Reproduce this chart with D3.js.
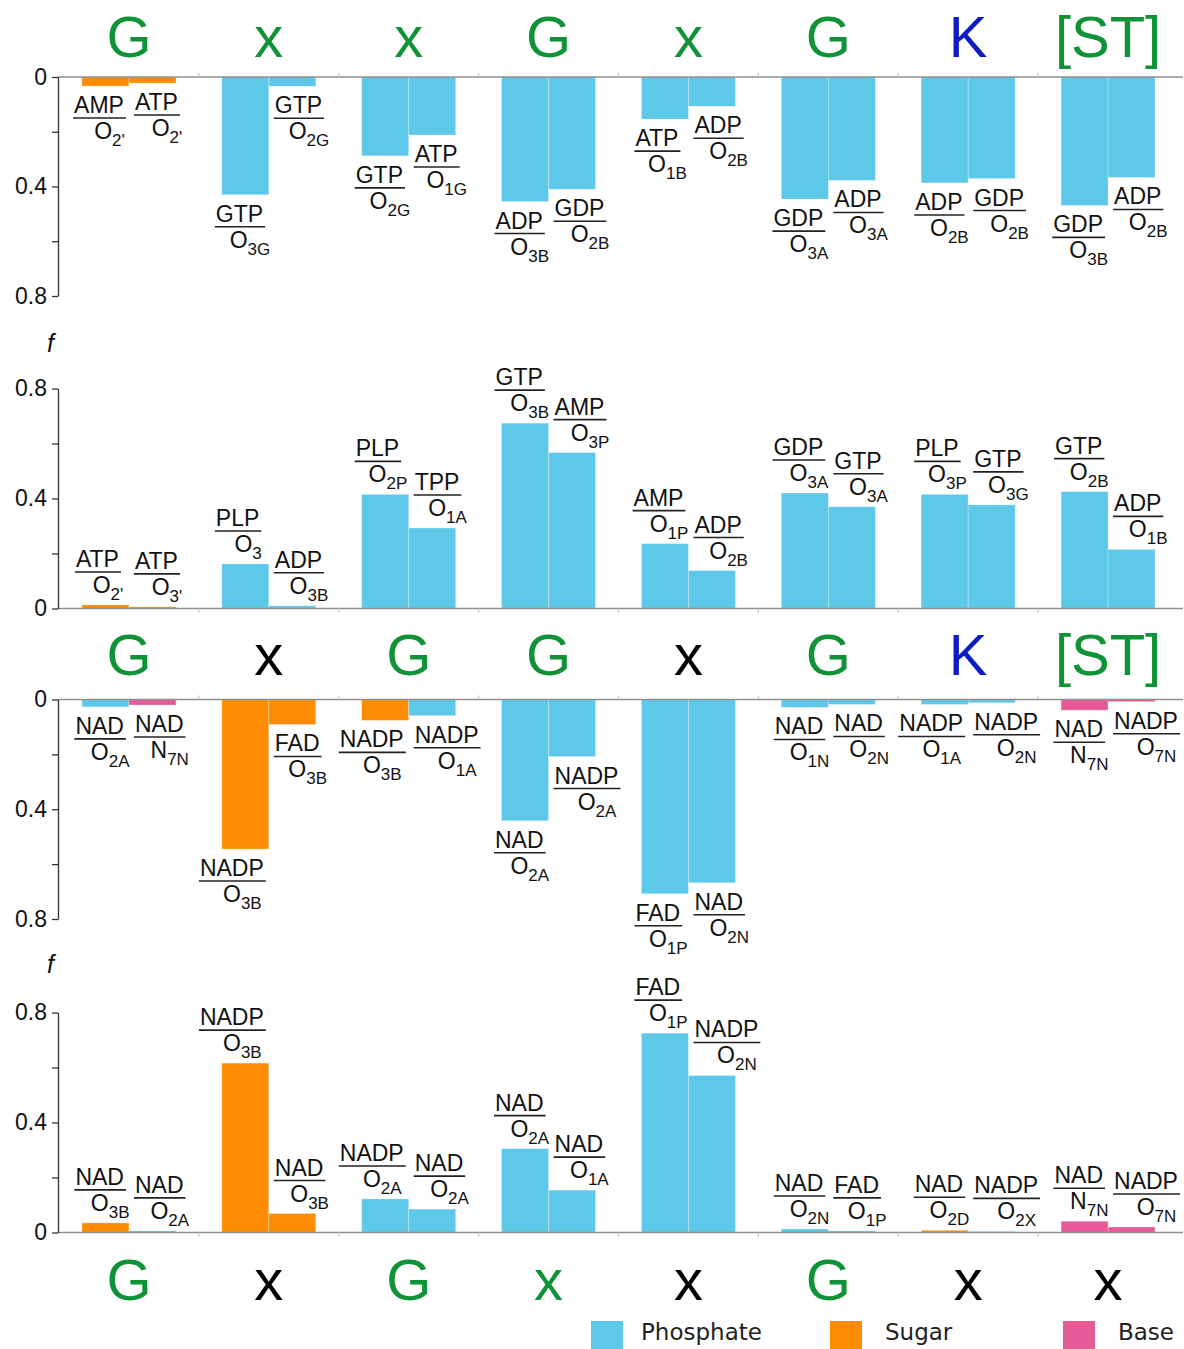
<!DOCTYPE html>
<html><head><meta charset="utf-8">
<script src="https://cdn.jsdelivr.net/npm/d3@7"></script>
<style>body{margin:0;background:#fff}svg{display:block}</style>
</head><body>
<svg id="c" width="1184" height="1349"></svg>
<script>
// ---------- DATA ----------
const groups = [0, 1, 2, 3, 4, 5, 6, 7];

// letter rows (motif residues) and their tone: g = green, b = blue, k = black
const rowTopLetters    = ["G", "x", "x", "G", "x", "G", "K", "[ST]"];
const rowTopTones      = ["g", "g", "g", "g", "g", "g", "b", "g"];
const rowMidLetters    = ["G", "x", "G", "G", "x", "G", "K", "[ST]"];
const rowMidTones      = ["g", "k", "g", "g", "k", "g", "b", "g"];
const rowBottomLetters = ["G", "x", "G", "x", "x", "G", "x", "x"];
const rowBottomTones   = ["g", "k", "g", "g", "k", "g", "k", "k"];

// Panel 1 (top, downward)
const p1Ligand = [["AMP","ATP"],["GTP","GTP"],["GTP","ATP"],["ADP","GDP"],["ATP","ADP"],["GDP","ADP"],["ADP","GDP"],["GDP","ADP"]];
const p1Atom   = [["O","O"],["O","O"],["O","O"],["O","O"],["O","O"],["O","O"],["O","O"],["O","O"]];
const p1Sub    = [["2'","2'"],["3G","2G"],["2G","1G"],["3B","2B"],["1B","2B"],["3A","3A"],["2B","2B"],["3B","2B"]];
const p1Value  = [[0.033,0.022],[0.430,0.034],[0.288,0.212],[0.455,0.410],[0.154,0.107],[0.446,0.378],[0.387,0.371],[0.469,0.367]];
const p1Type   = [["sugar","sugar"],["phosphate","phosphate"],["phosphate","phosphate"],["phosphate","phosphate"],["phosphate","phosphate"],["phosphate","phosphate"],["phosphate","phosphate"],["phosphate","phosphate"]];

// Panel 2 (upward)
const p2Ligand = [["ATP","ATP"],["PLP","ADP"],["PLP","TPP"],["GTP","AMP"],["AMP","ADP"],["GDP","GTP"],["PLP","GTP"],["GTP","ADP"]];
const p2Atom   = [["O","O"],["O","O"],["O","O"],["O","O"],["O","O"],["O","O"],["O","O"],["O","O"]];
const p2Sub    = [["2'","3'"],["3","3B"],["2P","1A"],["3B","3P"],["1P","2B"],["3A","3A"],["3P","3G"],["2B","1B"]];
const p2Value  = [[0.013,0.006],[0.162,0.010],[0.415,0.293],[0.674,0.567],[0.236,0.138],[0.420,0.370],[0.415,0.377],[0.425,0.215]];
const p2Type   = [["sugar","sugar"],["phosphate","phosphate"],["phosphate","phosphate"],["phosphate","phosphate"],["phosphate","phosphate"],["phosphate","phosphate"],["phosphate","phosphate"],["phosphate","phosphate"]];

// Panel 3 (downward)
const p3Ligand = [["NAD","NAD"],["NADP","FAD"],["NADP","NADP"],["NAD","NADP"],["FAD","NAD"],["NAD","NAD"],["NADP","NADP"],["NAD","NADP"]];
const p3Atom   = [["O","N"],["O","O"],["O","O"],["O","O"],["O","O"],["O","O"],["O","O"],["N","O"]];
const p3Sub    = [["2A","7N"],["3B","3B"],["3B","1A"],["2A","2A"],["1P","2N"],["1N","2N"],["1A","2N"],["7N","7N"]];
const p3Value  = [[0.027,0.020],[0.545,0.091],[0.076,0.059],[0.442,0.208],[0.708,0.668],[0.029,0.018],[0.018,0.012],[0.039,0.008]];
const p3Type   = [["phosphate","base"],["sugar","sugar"],["sugar","phosphate"],["phosphate","phosphate"],["phosphate","phosphate"],["phosphate","phosphate"],["phosphate","phosphate"],["base","base"]];

// Panel 4 (upward)
const p4Ligand = [["NAD","NAD"],["NADP","NAD"],["NADP","NAD"],["NAD","NAD"],["FAD","NADP"],["NAD","FAD"],["NAD","NADP"],["NAD","NADP"]];
const p4Atom   = [["O","O"],["O","O"],["O","O"],["O","O"],["O","O"],["O","O"],["O","O"],["N","O"]];
const p4Sub    = [["3B","2A"],["3B","3B"],["2A","2A"],["2A","1A"],["1P","2N"],["2N","1P"],["2D","2X"],["7N","7N"]];
const p4Value  = [[0.035,0.006],[0.616,0.069],[0.122,0.085],[0.305,0.154],[0.725,0.571],[0.013,0.006],[0.008,0.004],[0.041,0.020]];
const p4Type   = [["sugar","phosphate"],["sugar","sugar"],["phosphate","phosphate"],["phosphate","phosphate"],["phosphate","phosphate"],["phosphate","phosphate"],["sugar","phosphate"],["base","base"]];

const yTicks = [0, 0.2, 0.4, 0.6, 0.8];
const yTickLabels = [0, 0.4, 0.8];
const legendKeys = ["phosphate", "sugar", "base"];
const legendNames = ["Phosphate", "Sugar", "Base"];

// ---------- STYLE / LAYOUT ----------
const colors = {phosphate: "#5ec8e9", sugar: "#fd8c02", base: "#e85a97"};
const tones = {g: "#0f9336", b: "#0b1dc2", k: "#000000"};
const FONT = "'Liberation Sans', Arial, Helvetica, sans-serif";

const svg = d3.select("#c");
const axisX = 58, lineEnd = 1183;
const x = d3.scaleBand().domain(groups).range([59, 1178]).paddingInner(0).paddingOuter(0);
const xInner = d3.scaleBand().domain([0, 1]).range([-47, 47]);

const panels = [
  {lig: p1Ligand, atom: p1Atom, sub: p1Sub, val: p1Value, type: p1Type, y0: 77, y8: 296, down: true},
  {lig: p2Ligand, atom: p2Atom, sub: p2Sub, val: p2Value, type: p2Type, y0: 608.5, y8: 388.5, down: false},
  {lig: p3Ligand, atom: p3Atom, sub: p3Sub, val: p3Value, type: p3Type, y0: 699.5, y8: 919, down: true},
  {lig: p4Ligand, atom: p4Atom, sub: p4Sub, val: p4Value, type: p4Type, y0: 1232.5, y8: 1012.5, down: false}
];

function drawLetters(letters, toneArr, baseline) {
  svg.append("g").selectAll("text").data(groups).join("text")
    .attr("x", d => x(d) + x.bandwidth() / 2)
    .attr("y", baseline)
    .attr("text-anchor", "middle")
    .attr("font-family", FONT)
    .attr("font-size", 58)
    .attr("fill", d => tones[toneArr[d]])
    .text(d => letters[d]);
}
drawLetters(rowTopLetters, rowTopTones, 57);
drawLetters(rowMidLetters, rowMidTones, 675);
drawLetters(rowBottomLetters, rowBottomTones, 1300);

// xStartFn receives the measured line width and returns the line's left x
function drawLabel(g, xStartFn, topBase, lig, atom, sub) {
  const t = g.append("text").attr("y", topBase)
    .attr("font-family", FONT).attr("font-size", 23).attr("fill", "#111").text(lig);
  const w = t.node().getComputedTextLength() + 3;
  const xStart = xStartFn(w);
  t.attr("x", xStart + 1);
  g.append("line").attr("x1", xStart).attr("x2", xStart + w)
    .attr("y1", topBase + 5).attr("y2", topBase + 5)
    .attr("stroke", "#222").attr("stroke-width", 1.6);
  const b = g.append("text").attr("x", xStart + w / 2 + 10).attr("y", topBase + 26)
    .attr("text-anchor", "middle").attr("font-family", FONT).attr("font-size", 23).attr("fill", "#111");
  b.append("tspan").text(atom);
  b.append("tspan").attr("font-size", 17).attr("dy", 7).text(sub);
}

panels.forEach(p => {
  const y = d3.scaleLinear().domain([0, 0.8]).range([p.y0, p.y8]);
  const g = svg.append("g");
  const bars = [];
  groups.forEach(gi => [0, 1].forEach(j => bars.push({gi, j})));

  // bars
  g.selectAll("rect").data(bars).join("rect")
    .attr("x", d => x(d.gi) + x.bandwidth() / 2 + xInner(d.j))
    .attr("width", xInner.bandwidth())
    .attr("y", d => Math.min(y(0), y(p.val[d.gi][d.j])))
    .attr("height", d => Math.abs(y(p.val[d.gi][d.j]) - y(0)))
    .attr("fill", d => colors[p.type[d.gi][d.j]])
    .attr("stroke", "rgba(255,255,255,0.35)").attr("stroke-width", 0.8);

  // baseline
  g.append("line").attr("x1", axisX).attr("x2", lineEnd).attr("y1", y(0)).attr("y2", y(0))
    .attr("stroke", "#8f8f8f").attr("stroke-width", 1.6);
  g.selectAll(".bt").data(groups.slice(1)).join("line").attr("class", "bt")
    .attr("x1", d => x(d)).attr("x2", d => x(d))
    .attr("y1", y(0)).attr("y2", y(0) + (p.down ? -4 : 4))
    .attr("stroke", "#c4c4c4").attr("stroke-width", 1.2);

  // y axis
  const ax = g.append("g").attr("transform", `translate(${axisX},0)`)
    .call(d3.axisLeft(y).tickValues(yTicks).tickSize(6).tickSizeOuter(0).tickPadding(5)
      .tickFormat(d => yTickLabels.includes(d) ? String(d) : ""));
  ax.select(".domain").attr("stroke", "#333").attr("stroke-width", 1.3);
  ax.selectAll(".tick line").attr("stroke", "#333").attr("stroke-width", 1.3);
  ax.selectAll(".tick text").attr("font-family", FONT).attr("font-size", 23).attr("fill", "#111");

  // labels
  bars.forEach(d => {
    const v = p.val[d.gi][d.j];
    const bx = x(d.gi) + x.bandwidth() / 2 + xInner(d.j);
    const junction = x(d.gi) + x.bandwidth() / 2;
    const xs = d.j === 0 ? (w => Math.min(bx - 7, junction - 3 - w)) : (w => bx + 5);
    const topBase = p.down ? y(v) + 27 : y(v) - 38;
    drawLabel(g, xs, topBase, p.lig[d.gi][d.j], p.atom[d.gi][d.j], p.sub[d.gi][d.j]);
  });
});

// f labels
[352, 973].forEach(yy => svg.append("text").attr("x", 47).attr("y", yy)
  .attr("font-family", FONT).attr("font-style", "italic").attr("font-size", 25).attr("fill", "#111").text("f"));

// legend
const lx = [591, 830, 1063];
const ltx = [641, 885, 1118];
const lg = svg.append("g");
lg.selectAll("rect").data(legendKeys).join("rect")
  .attr("x", (d, i) => lx[i]).attr("y", 1321).attr("width", 32).attr("height", 32)
  .attr("fill", d => colors[d]);
lg.selectAll("text").data(legendNames).join("text")
  .attr("x", (d, i) => ltx[i]).attr("y", 1340)
  .attr("font-family", "'DejaVu Sans', sans-serif").attr("font-size", 23).attr("fill", "#222")
  .text(d => d);
</script>
</body></html>
